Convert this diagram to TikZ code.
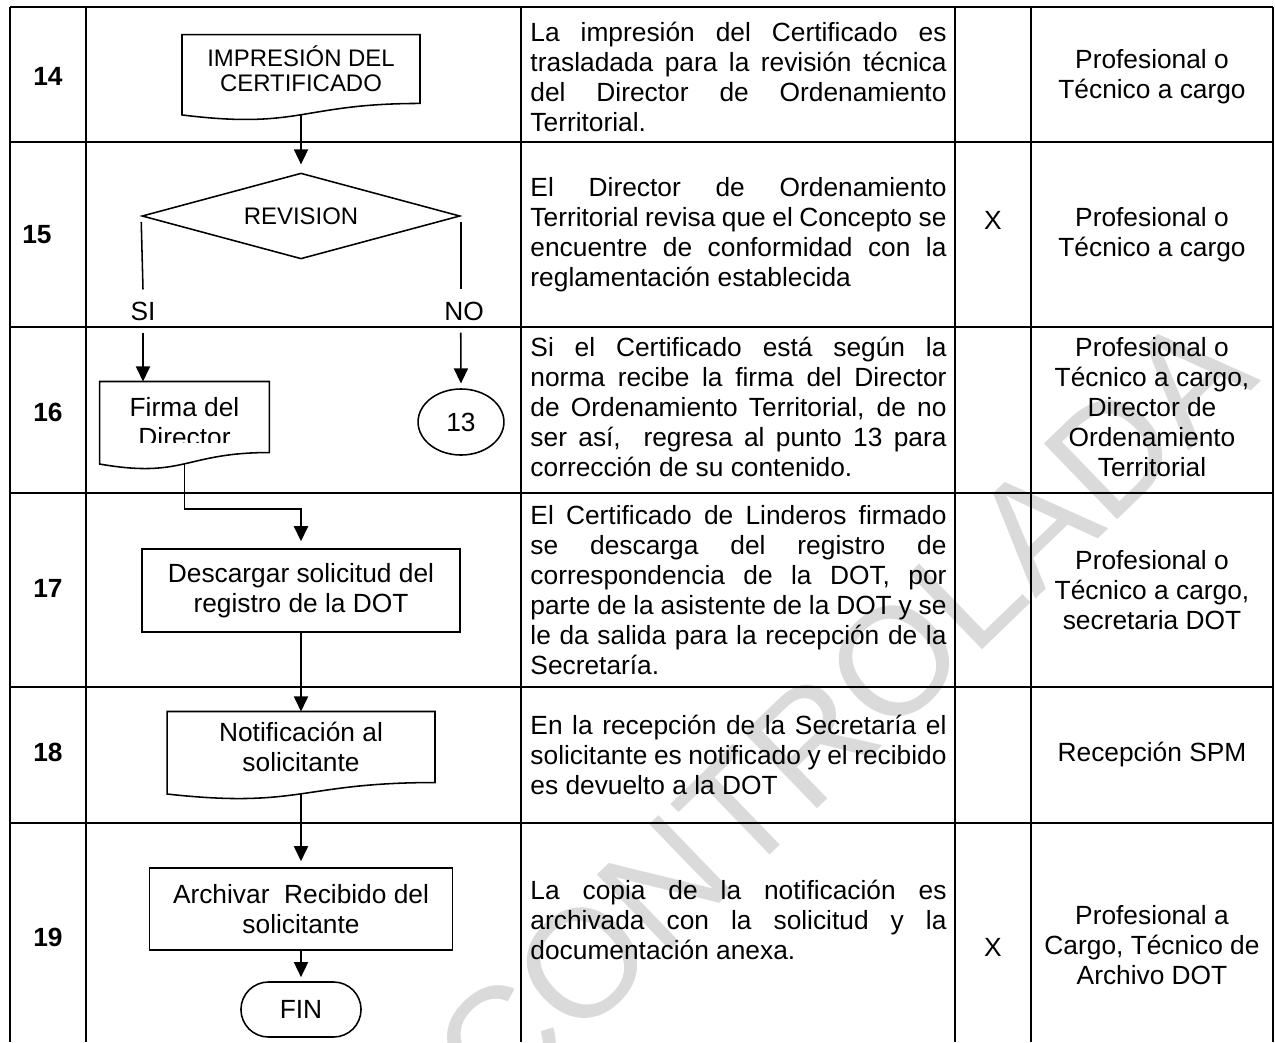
\documentclass[tikz,border=0pt]{standalone}
\usepackage{fontspec}
\setmainfont{Liberation Sans}
\usetikzlibrary{positioning,arrows.meta,shapes.geometric}
\definecolor{wmark}{HTML}{DADADA}

\begin{document}
\begin{tikzpicture}[x=0.418pt,y=-0.418pt,
 grid/.style={line width=1.1pt},
 line/.style={line width=0.65pt},
 arr/.style={line,-{Triangle[length=6.3pt,width=5.9pt]}},
 txt/.style={inner sep=0pt,font=\fontsize{11}{12.54}\selectfont},
 desc/.style={txt,align=justify,text width=173.9pt,anchor=west},
 role/.style={txt,align=center},
 num/.style={txt,font=\fontsize{11}{12.54}\selectfont\bfseries},
 flow/.style={txt,align=center},
 docbox/.style={flow,draw=none,minimum width=#1,minimum height=29.3pt},
 procbox/.style={flow,draw,line,minimum width=#1,minimum height=34.5pt},
 lbl/.style={txt}]
\useasboundingbox (0,0) rectangle (1275,1042);

\node[rotate=44,anchor=base east,text=wmark,inner sep=0pt,
 font=\fontsize{64}{64}\selectfont] (wm) at (1262,380) {COPIA NO CONTROLADA};

\foreach \y in {7,142,327,493,687,823}
 \draw[grid] (10,\y) -- (1273,\y);
\foreach \x in {10,86,521,955,1031,1273}
 \draw[grid] (\x,7) -- (\x,1042);

\node[num] (n14) at (48,76) {14};
\node[num] (n15) at (37,235) {15};
\node[num] (n16) at (48,412) {16};
\node[num] (n17) at (48,588) {17};
\node[num] (n18) at (48,752) {18};
\node[num] (n19) at (48,937) {19};

\node[desc] (d14) at (530,77) {La impresión del Certificado es\linebreak trasladada para la revisión técnica\linebreak del Director de Ordenamiento\linebreak Territorial.};
\node[desc] (d15) at (530,235) {El Director de Ordenamiento\linebreak Territorial revisa que el Concepto se\linebreak encuentre de conformidad con la\linebreak reglamentación establecida};
\node[desc] (d16) at (530,407) {Si el Certificado está según la\linebreak norma recibe la firma del Director\linebreak de Ordenamiento Territorial, de no\linebreak ser así,\ \ regresa al punto 13 para\linebreak corrección de su contenido.};
\node[desc] (d17) at (530,590) {El Certificado de Linderos firmado\linebreak se descarga del registro de\linebreak correspondencia de la DOT, por\linebreak parte de la asistente de la DOT y se\linebreak le da salida para la recepción de la\linebreak Secretaría.};
\node[desc] (d18) at (530,755) {En la recepción de la Secretaría el\linebreak solicitante es notificado y el recibido\linebreak es devuelto a la DOT};
\node[desc] (d19) at (530,920) {La copia de la notificación es\linebreak archivada con la solicitud y la\linebreak documentación anexa.};

\node[role] (x15) at (993,220) {X};
\node[role] (x19) at (993,947) {X};

\node[role] (r14) at (1152,77) {Profesional o\\Técnico a cargo};
\node[role] (r15) at (1152,235) {Profesional o\\Técnico a cargo};
\node[role] (r16) at (1152,407) {Profesional o\\Técnico a cargo,\\Director de\\Ordenamiento\\Territorial};
\node[role] (r17) at (1152,590) {Profesional o\\Técnico a cargo,\\secretaria DOT};
\node[role] (r18) at (1152,755) {Recepción SPM};
\node[role] (r19) at (1152,945) {Profesional a\\Cargo, Técnico de\\Archivo DOT};

\node[docbox=99.1pt,minimum height=28.4pt,font=\fontsize{10}{10.5}\selectfont] (impr) at (301,69) {IMPRESIÓN DEL\\CERTIFICADO};
\node[diamond,draw,line,inner sep=0pt,aspect=3.7,minimum width=132.9pt,minimum height=35.9pt,
 font=\fontsize{10}{10.5}\selectfont] (rev) at (301,216) {REVISION};
\node[lbl] (si) at (143,311) {SI};
\node[lbl] (no) at (464,311) {NO};
\node[docbox=70.6pt] (firma) at (184.5,417) {};
\begin{scope}
\clip (firma.north west) rectangle ([yshift=4.2pt]firma.south east);
\node[flow] (firmatxt) at ([yshift=-2.1pt]firma.center) {Firma del\\Director};
\end{scope}
\node[ellipse,draw,line,inner sep=0pt,minimum width=35.9pt,minimum height=27.6pt,
 font=\fontsize{11}{12.54}\selectfont] (c13) at (461,422) {13};
\node[procbox=132.9pt,minimum height=34.7pt] (dscr) at (301,590.5) {Descargar solicitud del\\registro de la DOT};
\node[docbox=111.6pt] (notif) at (301,747) {Notificación al\\solicitante};
\node[procbox=126.7pt,minimum height=34.3pt] (arch) at (301,909) {Archivar~ Recibido del\\solicitante};
\node[flow,draw,line,rounded corners=11.5pt,minimum width=50.2pt,minimum height=23pt] (fin) at (301,1009.5) {FIN};

\foreach \n in {impr,firma,notif}
 \draw[line] (\n.north west) -- (\n.north east) -- (\n.south east)
 .. controls (\n.south) and ([yshift=-11pt]\n.south) .. ([yshift=-4.8pt]\n.south west) -- cycle;

\draw[arr,shorten >=3.3pt] ([yshift=-4.7pt]impr.south) -- (rev.north);
\draw[line] ([yshift=-2.5pt]rev.west) -- ([yshift=4.9pt]si.north);
\draw[arr] ([yshift=-4.9pt]si.south) -- (si.south |- firma.north);
\draw[line] ([yshift=-2.5pt]rev.east) -- ([yshift=4.9pt]rev.east |- no.north);
\draw[arr,shorten >=2pt] ([yshift=-4.9pt]rev.east |- no.south) -- (c13.north);
\draw[arr,shorten >=2.9pt] ([yshift=-4.8pt]firma.south) -- ++(0,45) -| (dscr.north);
\draw[arr] (dscr.south) -- (notif.north);
\draw[arr,shorten >=2.5pt] ([yshift=-4.8pt]notif.south) -- (arch.north);
\draw[arr,shorten >=1.7pt] (arch.south) -- (fin.north);
\end{tikzpicture}
\end{document}
